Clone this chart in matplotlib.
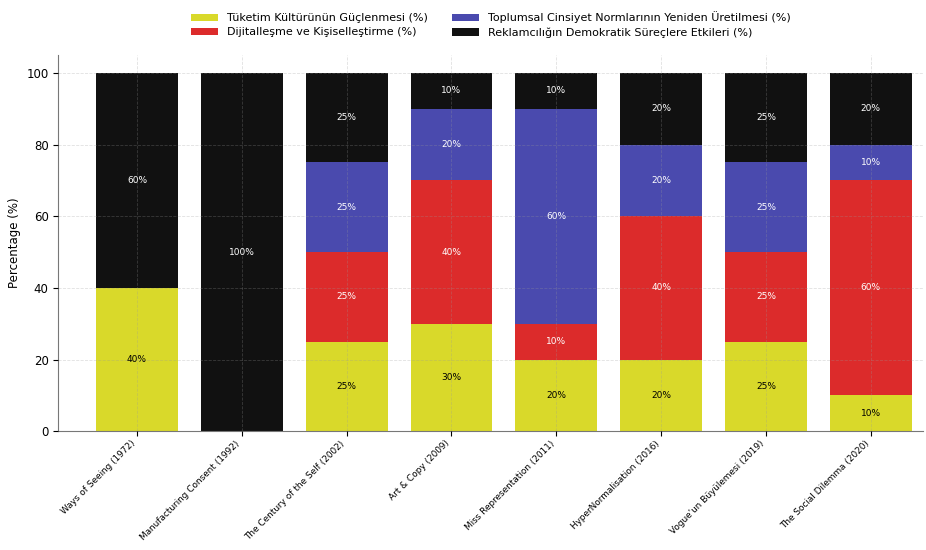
import matplotlib
matplotlib.use("Agg")
import matplotlib.pyplot as plt
import numpy as np

belgeseller = [
    "Ways of Seeing (1972)",
    "Manufacturing Consent (1992)",
    "The Century of the Self (2002)",
    "Art & Copy (2009)",
    "Miss Representation (2011)",
    "HyperNormalisation (2016)",
    "Vogue'un Büyülemesi (2019)",
    "The Social Dilemma (2020)",
]

tuketim = [40, 0, 25, 30, 20, 20, 25, 10]
dijital = [0, 0, 25, 40, 10, 40, 25, 60]
cinsiyet = [0, 0, 25, 20, 60, 20, 25, 10]
demokrasi = [60, 100, 25, 10, 10, 20, 25, 20]

seriler = [
    ("Tüketim Kültürünün Güçlenmesi (%)", tuketim, "#d9d92a", "black"),
    ("Dijitalleşme ve Kişiselleştirme (%)", dijital, "#dc2b2b", "white"),
    ("Toplumsal Cinsiyet Normlarının Yeniden Üretilmesi (%)", cinsiyet, "#4a4aae", "white"),
    ("Reklamcılığın Demokratik Süreçlere Etkileri (%)", demokrasi, "#111111", "white"),
]

fig = plt.figure(figsize=(9.26, 5.5), dpi=100)
ax = fig.add_axes([0.063, 0.216, 0.934, 0.684])

x = np.arange(len(belgeseller))
alt = np.zeros(len(belgeseller))
for ad, degerler, renk, yazi in seriler:
    degerler = np.array(degerler, dtype=float)
    bars = ax.bar(x, degerler, 0.78, bottom=alt, color=renk, label=ad)
    for b, d, a in zip(bars, degerler, alt):
        if d > 0:
            ax.text(b.get_x() + b.get_width() / 2, a + d / 2, f"{int(d)}%",
                    ha="center", va="center", fontsize=6.5, color=yazi)
    alt += degerler

ax.set_xlim(-0.75, 7.5)
ax.set_ylim(0, 105)
ax.set_xticks(x)
ax.set_xticklabels(belgeseller, rotation=45, ha="right", fontsize=6.4)
ax.tick_params(axis="x", pad=2)
ax.tick_params(axis="y", labelsize=8.5)
ax.set_ylabel("Percentage (%)", fontsize=8.5)
ax.grid(True, linestyle="--", linewidth=0.6, color="#999999", alpha=0.3)
ax.set_axisbelow(False)
for s in ["top", "right"]:
    ax.spines[s].set_visible(False)
for s in ["left", "bottom"]:
    ax.spines[s].set_color("#777777")

ax.legend(loc="upper center", bbox_to_anchor=(0.5, 1.142), ncol=2,
          fontsize=8, frameon=False, handlelength=2.4, columnspacing=2.2,
          labelspacing=0.35)

fig.savefig("out.png", dpi=100)
